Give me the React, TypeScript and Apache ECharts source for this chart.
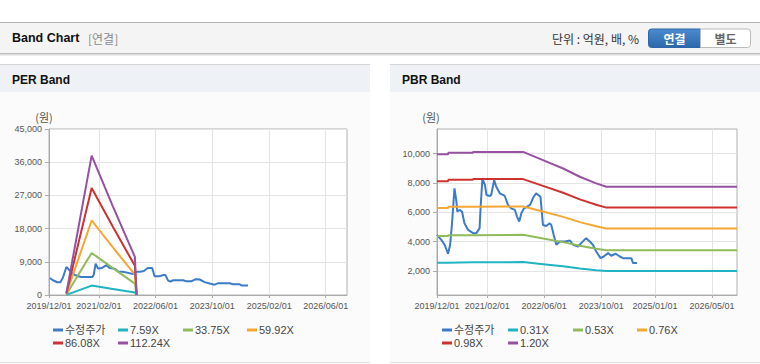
import React, { useEffect, useRef } from 'react';
import * as echarts from 'echarts';

// ---------- axis ticks ----------
const axisStart = '2019/12/01';
const axisEnd = '2026/12/01';
const perTickLabels = ['2019/12/01', '2021/02/01', '2022/06/01', '2023/10/01', '2025/02/01', '2026/06/01'];
const pbrTickLabels = ['2019/12/01', '2021/02/01', '2022/06/01', '2023/10/01', '2025/01/01', '2026/05/01'];
const perYTicks = [0, 9000, 18000, 27000, 36000, 45000];
const pbrYTicks = [2000, 4000, 6000, 8000, 10000];
const pbrYRange = [370, 11670];

// ---------- PER band ----------
const perNames = ['수정주가', '7.59X', '33.75X', '59.92X', '86.08X', '112.24X'];
const perPriceDates = [
  '2019/12/07', '2020/01/04', '2020/02/10', '2020/03/07', '2020/03/28', '2020/04/28', '2020/05/19',
  '2020/06/10', '2020/07/07', '2020/08/07', '2020/09/04', '2020/10/16', '2020/12/07', '2020/12/19',
  '2021/01/04', '2021/01/25', '2021/02/25', '2021/03/13', '2021/04/07', '2021/05/04', '2021/06/16',
  '2021/07/16', '2021/08/28', '2021/10/10', '2021/11/22', '2021/12/19', '2022/01/19', '2022/02/22',
  '2022/03/28', '2022/05/04', '2022/05/25', '2022/07/07', '2022/08/04', '2022/08/25', '2022/09/19',
  '2022/10/07', '2022/11/01', '2023/01/25', '2023/02/22', '2023/04/04', '2023/05/13', '2023/06/16',
  '2023/07/28', '2023/09/10', '2023/10/22', '2023/11/22', '2024/02/28', '2024/03/28', '2024/05/25',
  '2024/06/07', '2024/08/04',
];
const perPriceValues = [
  4600, 4000, 3450, 3450, 4600, 7600, 6900,
  6000, 5500, 5100, 4900, 4900, 4900, 5500,
  8500, 7200, 7300, 7600, 8100, 7300, 7100,
  6400, 6300, 6000, 5700, 6300, 6300, 6500,
  7300, 7300, 5100, 5100, 5400, 5400, 3900,
  3600, 4000, 4000, 3700, 3700, 4300, 4200,
  3500, 3100, 2800, 3200, 3200, 2900, 2900,
  2600, 2600,
];
const perBandDates = ['2020/04/28', '2020/12/01', '2021/06/01', '2021/12/07', '2021/12/22'];
const per759 = [50, 2550, 1650, 700, 0];
const per3375 = [150, 11400, 7300, 3100, 0];
const per5992 = [300, 20200, 12900, 5500, 0];
const per8608 = [400, 29000, 18500, 7900, 0];
const per11224 = [500, 37800, 24000, 10300, 0];

// ---------- PBR band ----------
const pbrNames = ['수정주가', '0.31X', '0.53X', '0.76X', '0.98X', '1.20X'];
const pbrPriceDates = [
  '2019/12/01', '2020/01/07', '2020/02/04', '2020/03/04', '2020/03/22', '2020/04/07', '2020/04/19',
  '2020/04/28', '2020/05/13', '2020/05/22', '2020/06/10', '2020/07/01', '2020/07/22', '2020/08/22',
  '2020/10/04', '2020/11/01', '2020/11/28', '2020/12/07', '2020/12/22', '2021/01/13', '2021/01/25',
  '2021/02/25', '2021/03/07', '2021/04/01', '2021/04/19', '2021/05/19', '2021/07/01', '2021/07/28',
  '2021/08/25', '2021/09/25', '2021/10/13', '2021/11/01', '2021/11/19', '2021/12/10', '2022/02/01',
  '2022/03/04', '2022/03/25', '2022/05/01', '2022/05/22', '2022/06/19', '2022/07/19', '2022/08/01',
  '2022/08/22', '2022/09/13', '2022/10/13', '2022/11/25', '2023/01/07', '2023/02/04', '2023/03/16',
  '2023/04/13', '2023/05/25', '2023/06/25', '2023/07/22', '2023/08/19', '2023/09/25', '2023/10/22',
  '2023/11/28', '2023/12/25', '2024/02/01', '2024/03/07', '2024/04/04', '2024/06/13', '2024/06/28',
  '2024/08/01',
];
const pbrPriceValues = [
  4460, 4120, 3790, 3180, 3790, 5250, 6610,
  7630, 6840, 6050, 6160, 6050, 5250, 4800,
  4580, 4580, 4920, 6380, 8300, 7850, 7180,
  7110, 7180, 8190, 7740, 7290, 7110, 6500,
  6270, 6160, 5710, 5370, 5930, 6250, 6500,
  7060, 7290, 7060, 5140, 5070, 5250, 5140,
  4460, 3790, 4010, 4010, 4080, 3790, 3670,
  3900, 4240, 4010, 3790, 3330, 2880, 2990,
  3220, 3040, 3180, 2990, 2880, 2880, 2540,
  2540,
];
const pbrBandDates = [
  '2019/12/01', '2020/03/04', '2020/03/07', '2020/10/01', '2020/10/04', '2021/12/04',
  '2022/05/22', '2022/11/10', '2023/04/01', '2023/08/19', '2023/11/13', '2026/12/01',
];
const pbr031 = [2570, 2570, 2600, 2600, 2610, 2610, 2470, 2320, 2180, 2060, 2000, 2000];
const pbr053 = [4390, 4390, 4440, 4440, 4470, 4470, 4220, 3970, 3720, 3520, 3420, 3420];
const pbr076 = [6300, 6300, 6370, 6370, 6400, 6400, 6050, 5690, 5330, 5050, 4900, 4900];
const pbr098 = [8120, 8120, 8210, 8210, 8260, 8260, 7800, 7330, 6880, 6510, 6320, 6320];
const pbr120 = [9950, 9950, 10050, 10050, 10110, 10110, 9550, 8980, 8420, 7970, 7740, 7740];

const colors = ['#3b7bc8', '#1fb3c4', '#8fbb5a', '#f5a733', '#cf3130', '#9652a0'];

const fontEn = '"Liberation Sans", Arial, "Noto Sans CJK KR", sans-serif';
const fontKr = '"Noto Sans CJK KR", "Liberation Sans", sans-serif';

function toTs(s: string): number {
  const [y, m, d] = s.split('/').map(Number);
  return Date.UTC(y, m - 1, d) / 86400000; // days since epoch
}
function pairs(dates: string[], vals: number[]) {
  return dates.map((d, i) => [toTs(d), vals[i]]);
}
function fmtNum(v: number) {
  return Math.round(v).toLocaleString('en-US');
}

export default function App() {
  const ref = useRef<HTMLDivElement>(null);
  useEffect(() => {
    if (!ref.current) return;
    const chart = echarts.init(ref.current, null, { renderer: 'svg' });

    const grids = [
      { left: 49, top: 129, width: 298, height: 166 },
      { left: 437, top: 129, width: 300, height: 166 },
    ].map((g) => ({
      ...g,
      show: true,
      backgroundColor: '#ffffff',
      borderColor: '#b0b0b0',
      borderWidth: 1,
      containLabel: false,
    }));

    const makeX = (gridIndex: number, labels: string[]) => {
      const ts = labels.map(toTs);
      return {
        type: 'value',
        gridIndex,
        min: toTs(axisStart),
        max: toTs(axisEnd),
        scale: true,
        axisLine: { show: true, onZero: false, lineStyle: { color: '#aaaaaa', width: 1 } },
        axisTick: { show: true, length: 3, customValues: ts, lineStyle: { color: '#aaaaaa' } },
        axisLabel: {
          customValues: ts,
          formatter: (v: number) => {
            let best = 0;
            ts.forEach((t, i) => {
              if (Math.abs(t - v) < Math.abs(ts[best] - v)) best = i;
            });
            return labels[best];
          },
          fontSize: 9,
          color: '#555555',
          fontFamily: fontEn,
          margin: 6,
          hideOverlap: false,
          showMinLabel: true,
          showMaxLabel: true,
        },
        splitLine: { show: true, lineStyle: { color: '#e4e4e4', width: 1 } },
      };
    };

    const yCommon = {
      type: 'value',
      axisLine: { show: true, lineStyle: { color: '#aaaaaa', width: 1 } },
      axisTick: { show: true, length: 4, lineStyle: { color: '#aaaaaa' } },
      splitLine: { show: true, lineStyle: { color: '#e4e4e4', width: 1 } },
    };

    const yAxes = [
      {
        ...yCommon,
        gridIndex: 0,
        min: perYTicks[0],
        max: perYTicks[perYTicks.length - 1],
        interval: perYTicks[1] - perYTicks[0],
        axisLabel: { formatter: fmtNum, fontSize: 9, color: '#555555', fontFamily: fontEn, margin: 7 },
      },
      {
        ...yCommon,
        gridIndex: 1,
        min: pbrYRange[0],
        max: pbrYRange[1],
        axisTick: { ...yCommon.axisTick, customValues: pbrYTicks },
        axisLabel: {
          customValues: pbrYTicks,
          formatter: fmtNum,
          fontSize: 9,
          color: '#555555',
          fontFamily: fontEn,
          margin: 7,
        },
      },
    ];

    const line = (name: string, data: any[], color: string, axis: number) => ({
      type: 'line',
      name,
      data,
      xAxisIndex: axis,
      yAxisIndex: axis,
      showSymbol: false,
      symbol: 'none',
      color,
      lineStyle: { color, width: 2 },
      emphasis: { disabled: true },
      silent: true,
    });

    const perSeries = [
      line(perNames[0], pairs(perPriceDates, perPriceValues), colors[0], 0),
      line(perNames[1], pairs(perBandDates, per759), colors[1], 0),
      line(perNames[2], pairs(perBandDates, per3375), colors[2], 0),
      line(perNames[3], pairs(perBandDates, per5992), colors[3], 0),
      line(perNames[4], pairs(perBandDates, per8608), colors[4], 0),
      line(perNames[5], pairs(perBandDates, per11224), colors[5], 0),
    ];
    const pbrSeries = [
      line(pbrNames[0], pairs(pbrPriceDates, pbrPriceValues), colors[0], 1),
      line(pbrNames[1], pairs(pbrBandDates, pbr031), colors[1], 1),
      line(pbrNames[2], pairs(pbrBandDates, pbr053), colors[2], 1),
      line(pbrNames[3], pairs(pbrBandDates, pbr076), colors[3], 1),
      line(pbrNames[4], pairs(pbrBandDates, pbr098), colors[4], 1),
      line(pbrNames[5], pairs(pbrBandDates, pbr120), colors[5], 1),
    ];

    const legendPos = [
      [0, 0], [1, 0], [2, 0], [3, 0], [0, 1], [1, 1],
    ];
    const perLegX = [53, 118, 183, 247];
    const pbrLegX = [442, 508, 573, 637];
    const legRowY = [323, 336];
    const mkLegends = (names: string[], xs: number[]) =>
      names.map((n, i) => ({
        show: true,
        data: [n],
        left: xs[legendPos[i][0]],
        top: legRowY[legendPos[i][1]],
        padding: 0,
        itemGap: 0,
        itemWidth: 10,
        itemHeight: 3,
        icon: 'rect',
        selectedMode: false,
        textStyle: { fontSize: 11, color: '#444444', fontFamily: fontEn, lineHeight: 14, padding: [0, 0, 0, -3] },
      }));

    const txt = (text: string, x: number, y: number, font: string, fill: string, align = 'left') => ({
      type: 'text',
      z: 10,
      silent: true,
      style: { text, x, y, font, fill, align, verticalAlign: 'middle' },
    });
    const hline = (y: number, x1: number, x2: number, stroke: string) => ({
      type: 'line',
      z: -4,
      silent: true,
      shape: { x1, y1: y, x2, y2: y },
      style: { stroke, lineWidth: 1 },
    });
    const rect = (x: number, y: number, w: number, h: number, fill: string, z = -5) => ({
      type: 'rect',
      z,
      silent: true,
      shape: { x, y, width: w, height: h },
      style: { fill },
    });

    const graphic: any[] = [
      rect(0, 0, 760, 364, '#ffffff', -6),
      rect(0, 23, 760, 30, '#f4f4f4'),
      hline(22.5, 0, 760, '#b4b4b4'),
      hline(53.5, 0, 760, '#bdbdbd'),
      hline(54.5, 0, 760, '#dcdcdc'),
      hline(55.5, 0, 760, '#eeeeee'),
      txt('Band Chart', 12, 38, `bold 12.5px ${fontEn}`, '#111111'),
      txt('[연결]', 88, 38, `12px ${fontKr}`, '#8a8a8a'),
      txt('단위 : 억원, 배, %', 552, 38.5, `12px ${fontKr}`, '#333333'),
      {
        type: 'rect',
        z: 5,
        silent: true,
        shape: { x: 648.5, y: 29, width: 52, height: 18.5, r: [3, 0, 0, 3] },
        style: {
          fill: new echarts.graphic.LinearGradient(0, 0, 0, 1, [
            { offset: 0, color: '#4b8ad0' },
            { offset: 1, color: '#2c68ab' },
          ]),
          stroke: '#2d66a6',
          lineWidth: 1,
        },
      },
      txt('연결', 674.5, 38.5, `bold 12px ${fontKr}`, '#ffffff', 'center'),
      {
        type: 'rect',
        z: 5,
        silent: true,
        shape: { x: 700.5, y: 29, width: 50, height: 18.5, r: [0, 3, 3, 0] },
        style: { fill: '#ffffff', stroke: '#bbbbbb', lineWidth: 1 },
      },
      txt('별도', 725.5, 38.5, `bold 12px ${fontKr}`, '#666666', 'center'),
      // panels
      rect(0, 64, 370, 28, '#eef2f7'),
      rect(0, 92, 370, 270, '#fbfbfb'),
      hline(64.5, 0, 370, '#d6d6d6'),
      hline(362.5, 0, 370, '#dddddd'),
      txt('PER Band', 12, 80, `bold 12px ${fontEn}`, '#111111'),
      rect(390, 64, 370, 28, '#eef2f7'),
      rect(390, 92, 370, 270, '#fbfbfb'),
      hline(64.5, 390, 760, '#d6d6d6'),
      hline(362.5, 390, 760, '#dddddd'),
      txt('PBR Band', 402, 80, `bold 12px ${fontEn}`, '#111111'),
      txt('(원)', 44, 117, `11px ${fontKr}`, '#555555', 'center'),
      txt('(원)', 431, 117, `11px ${fontKr}`, '#555555', 'center'),
    ];

    chart.setOption({
      animation: false,
      backgroundColor: 'transparent',
      textStyle: { fontFamily: fontEn },
      grid: grids,
      xAxis: [makeX(0, perTickLabels), makeX(1, pbrTickLabels)],
      yAxis: yAxes,
      legend: [...mkLegends(perNames, perLegX), ...mkLegends(pbrNames, pbrLegX)],
      series: [...perSeries, ...pbrSeries],
      graphic,
    });
    return () => chart.dispose();
  }, []);

  return (
    <div
      ref={ref}
      style={{ position: 'absolute', left: 0, top: 0, width: 760, height: 364 }}
    />
  );
}
